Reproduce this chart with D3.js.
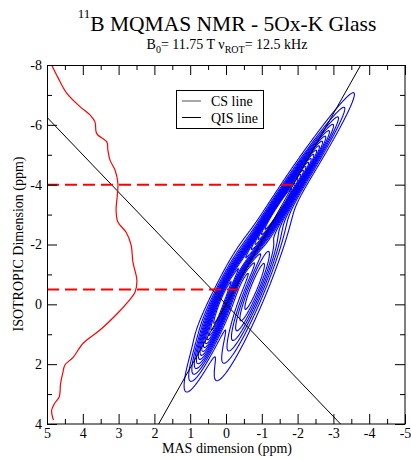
<!DOCTYPE html>
<html>
<head>
<meta charset="utf-8">
<script src="https://cdn.jsdelivr.net/npm/d3@7"></script>
<style>
  html, body { margin: 0; padding: 0; background: #fff; }
  svg { display: block; font-family: "Liberation Serif", "Times New Roman", serif; }
</style>
</head>
<body>
<svg id="chart" width="411" height="459"></svg>
<script>
// Axis ranges (ppm)
const masDomain = [5, -5];
const isoDomain = [-8, 4];
const masMajorTicks = [5, 4, 3, 2, 1, 0, -1, -2, -3, -4, -5];
const masMinorTicks = [4.5, 3.5, 2.5, 1.5, 0.5, -0.5, -1.5, -2.5, -3.5, -4.5];
const isoMajorTicks = [-8, -6, -4, -2, 0, 2, 4];
const isoMinorTicks = [-7, -5, -3, -1, 1, 3];

// Reference lines through the origin: iso = slope * mas
const csSlope = 17 / 8;
const qisSlope = -10 / 8;

// Isotropic projection trace (drawn in chart coordinates)
const projIso = [-8.0, -7.57, -7.06, -6.61, -6.33, -6.10, -5.77, -5.66, -5.43, -5.16, -4.82, -4.49,
  -4.05, -3.59, -3.15, -2.75, -2.41, -1.98, -1.41, -0.81, -0.41, -0.04, 0.29, 0.86, 1.30, 1.77,
  2.03, 2.30, 2.64, 3.10, 3.30, 3.54, 3.87];
const projMas = [4.87, 4.69, 4.45, 4.08, 3.80, 3.66, 3.63, 3.58, 3.33, 3.30, 3.24, 3.10,
  3.02, 3.04, 3.07, 3.02, 2.79, 2.65, 2.60, 2.49, 2.54, 2.77, 3.02, 3.52, 3.99, 4.27,
  4.50, 4.56, 4.62, 4.66, 4.78, 4.87, 4.82];

// Horizontal slice markers
const sliceIso = [-4, -0.5];
const sliceEndMas = [-2.05, -0.5];

// 2D spectrum: sheared Gaussian components, each centred on its own ridge line
const compMas   = [-1.46, 0.25, -0.8];
const compIso   = [-3.2, 0.4, -0.6];
const compSlope = [1.85, 3.0, 3.0];
const compAmp   = [1.0, 0.75, 0.42];
const compSigI  = [1.6, 1.1, 1.55];
const compSigM  = [0.15, 0.16, 0.2];
const contourLevels = [0.05, 0.10, 0.15, 0.20, 0.25, 0.30, 0.35, 0.40, 0.45, 0.50,
  0.55, 0.60, 0.65, 0.70, 0.75, 0.80, 0.85, 0.90];

const svg = d3.select("#chart");
const x = d3.scaleLinear().domain(masDomain).range([47, 405]);
const y = d3.scaleLinear().domain(isoDomain).range([65, 424]);

// Evaluate the spectrum on a grid
const step = 0.02;
const gMas0 = 2.5, gMas1 = -4.8, gIso0 = -8.5, gIso1 = 4.5;
const nx = Math.round((gMas0 - gMas1) / step) + 1;
const ny = Math.round((gIso1 - gIso0) / step) + 1;
const values = new Float64Array(nx * ny);
for (let k = 0; k < ny; k++) {
  const iso = gIso0 + k * step;
  for (let j = 0; j < nx; j++) {
    const mas = gMas0 - j * step;
    let f = 0;
    for (let c = 0; c < compMas.length; c++) {
      const di = iso - compIso[c];
      const w = mas - (compMas[c] + di / compSlope[c]);
      f += compAmp[c] * Math.exp(-di * di / (2 * compSigI[c] ** 2) - w * w / (2 * compSigM[c] ** 2));
    }
    values[k * nx + j] = f;
  }
}
const fmax = d3.max(values);
for (let i = 0; i < values.length; i++) values[i] /= fmax;

const contours = d3.contours().size([nx, ny]).thresholds(contourLevels)(values);
const gridToScreen = d3.geoTransform({
  point(gx, gy) {
    const mas = gMas0 - (gx - 0.5) * step;
    const iso = gIso0 + (gy - 0.5) * step;
    this.stream.point(x(mas), y(iso));
  }
});
const contourPath = d3.geoPath(gridToScreen);

const plot = svg.append("g");
plot.append("clipPath").attr("id", "clip")
  .append("rect").attr("x", 47).attr("y", 65).attr("width", 358).attr("height", 359);

const inner = plot.append("g").attr("clip-path", "url(#clip)");

// Contours
inner.append("g")
  .selectAll("path")
  .data(contours)
  .join("path")
  .attr("d", contourPath)
  .attr("fill", "none")
  .attr("stroke", "#0000ff")
  .attr("stroke-width", 1.1);

// CS and QIS lines
const lineGen = d3.line().x(d => x(d[0])).y(d => y(d[1]));
inner.append("path")
  .attr("d", lineGen([[isoDomain[1] / csSlope, isoDomain[1]], [isoDomain[0] / csSlope, isoDomain[0]]]))
  .attr("stroke", "#000").attr("stroke-width", 1).attr("fill", "none");
inner.append("path")
  .attr("d", lineGen([[masDomain[0], qisSlope * masDomain[0]], [isoDomain[1] / qisSlope, isoDomain[1]]]))
  .attr("stroke", "#000").attr("stroke-width", 1).attr("fill", "none");

// Projection trace
inner.append("path")
  .attr("d", d3.line().curve(d3.curveCatmullRom)
    .x((d, i) => x(projMas[i])).y((d, i) => y(projIso[i]))(projIso))
  .attr("stroke", "#ff0000").attr("stroke-width", 1.2).attr("fill", "none");

// Slice markers
inner.selectAll("line.slice")
  .data(sliceIso)
  .join("line")
  .attr("class", "slice")
  .attr("x1", x(masDomain[0]))
  .attr("x2", (d, i) => x(sliceEndMas[i]))
  .attr("y1", d => y(d)).attr("y2", d => y(d))
  .attr("stroke", "#ff0000").attr("stroke-width", 2)
  .attr("stroke-dasharray", "12,6");

// Axes with inward ticks on all sides
const fmt = d => String(d);
function styleAxis(g) {
  g.select(".domain").remove();
  g.selectAll("line").attr("stroke", "#000");
  g.selectAll("text").attr("font-family", "Liberation Serif, serif").attr("font-size", 14).attr("fill", "#000");
}
svg.append("g").attr("transform", "translate(0,424)")
  .call(d3.axisBottom(x).tickValues(masMajorTicks).tickSizeInner(-10).tickSizeOuter(0).tickPadding(4).tickFormat(fmt))
  .call(styleAxis);
svg.append("g").attr("transform", "translate(0,424)")
  .call(d3.axisBottom(x).tickValues(masMinorTicks).tickSizeInner(-5).tickSizeOuter(0).tickFormat(""))
  .call(styleAxis);
svg.append("g").attr("transform", "translate(0,65)")
  .call(d3.axisTop(x).tickValues(masMajorTicks).tickSizeInner(-10).tickSizeOuter(0).tickFormat(""))
  .call(styleAxis);
svg.append("g").attr("transform", "translate(0,65)")
  .call(d3.axisTop(x).tickValues(masMinorTicks).tickSizeInner(-5).tickSizeOuter(0).tickFormat(""))
  .call(styleAxis);
svg.append("g").attr("transform", "translate(47,0)")
  .call(d3.axisLeft(y).tickValues(isoMajorTicks).tickSizeInner(-10).tickSizeOuter(0).tickPadding(5).tickFormat(fmt))
  .call(styleAxis);
svg.append("g").attr("transform", "translate(47,0)")
  .call(d3.axisLeft(y).tickValues(isoMinorTicks).tickSizeInner(-5).tickSizeOuter(0).tickFormat(""))
  .call(styleAxis);
svg.append("g").attr("transform", "translate(405,0)")
  .call(d3.axisRight(y).tickValues(isoMajorTicks).tickSizeInner(-10).tickSizeOuter(0).tickFormat(""))
  .call(styleAxis);
svg.append("g").attr("transform", "translate(405,0)")
  .call(d3.axisRight(y).tickValues(isoMinorTicks).tickSizeInner(-5).tickSizeOuter(0).tickFormat(""))
  .call(styleAxis);

// Frame
svg.append("rect").attr("x", 47.5).attr("y", 65.5).attr("width", 357.5).attr("height", 358.5)
  .attr("fill", "none").attr("stroke", "#000").attr("stroke-width", 1);

// Legend
const legend = svg.append("g");
legend.append("rect").attr("x", 176.5).attr("y", 90.5).attr("width", 87).attr("height", 38)
  .attr("fill", "#fff").attr("stroke", "#000").attr("stroke-width", 1);
const legendItems = [{ label: "CS line", color: "#555" }, { label: "QIS line", color: "#000" }];
legendItems.forEach((it, i) => {
  const ly = 101 + i * 16.5;
  legend.append("line").attr("x1", 182).attr("x2", 201).attr("y1", ly).attr("y2", ly)
    .attr("stroke", it.color).attr("stroke-width", 1);
  legend.append("text").attr("x", 211).attr("y", ly + 5).attr("font-size", 14).text(it.label);
});

// Titles
const title = svg.append("text").attr("x", 227).attr("y", 31).attr("text-anchor", "middle").attr("font-size", 21.5);
title.append("tspan").attr("font-size", 13).attr("dy", -13).text("11");
title.append("tspan").attr("dy", 13).text("B MQMAS NMR - 5Ox-K Glass");

const sub = svg.append("text").attr("x", 227).attr("y", 49).attr("text-anchor", "middle").attr("font-size", 14);
sub.append("tspan").text("B");
sub.append("tspan").attr("font-size", 10).attr("dy", 4).text("0");
sub.append("tspan").attr("dy", -4).text("= 11.75 T ν");
sub.append("tspan").attr("font-size", 10).attr("dy", 4).text("ROT");
sub.append("tspan").attr("dy", -4).text("= 12.5 kHz");

svg.append("text").attr("x", 227).attr("y", 453).attr("text-anchor", "middle").attr("font-size", 14)
  .text("MAS dimension (ppm)");
svg.append("text").attr("transform", "translate(23,244) rotate(-90)").attr("text-anchor", "middle").attr("font-size", 14)
  .text("ISOTROPIC Dimension (ppm)");
</script>
</body>
</html>
